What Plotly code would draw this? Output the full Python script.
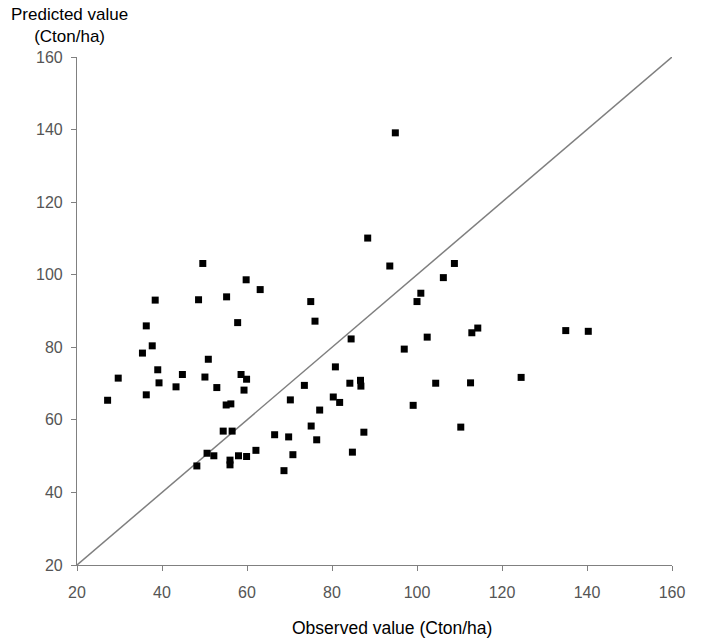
import plotly.graph_objects as go

observed = [27.2, 29.7, 35.4, 36.3, 36.3, 37.7, 38.4, 39.0, 39.3, 43.3, 44.8, 48.2, 48.6, 49.6,
            50.1, 50.6, 50.9, 52.2, 52.9, 54.4, 55.1, 55.2, 56.0, 56.0, 56.2, 56.5, 57.8, 58.0,
            58.6, 59.3, 59.8, 59.9, 59.9, 62.1, 63.1, 66.5, 68.7, 69.8, 70.2, 70.8, 73.5, 75.0,
            75.1, 76.0, 76.4, 77.1, 80.3, 80.8, 81.8, 84.2, 84.5, 84.8, 86.7, 86.8, 87.5, 88.4,
            93.6, 94.9, 97.0, 99.1, 100.0, 100.9, 102.4, 104.4, 106.2, 108.8, 110.3, 112.6,
            112.9, 114.3, 124.5, 135.0, 140.3]
predicted = [65.4, 71.5, 78.4, 85.9, 66.9, 80.4, 93.0, 73.8, 70.2, 69.1, 72.5, 47.3, 93.1, 103.1,
             71.8, 50.8, 76.7, 50.1, 68.9, 56.9, 64.1, 93.9, 48.9, 47.6, 64.4, 56.9, 86.8, 50.1,
             72.5, 68.2, 98.6, 71.2, 49.9, 51.6, 95.9, 55.9, 46.0, 55.3, 65.5, 50.4, 69.5, 92.6,
             58.3, 87.2, 54.5, 62.7, 66.3, 74.6, 64.8, 70.1, 82.3, 51.1, 70.9, 69.3, 56.6, 110.1,
             102.4, 139.1, 79.5, 64.0, 92.6, 94.9, 82.8, 70.1, 99.2, 103.1, 58.0, 70.2,
             84.0, 85.3, 71.7, 84.6, 84.4]
line_x = [20, 160]
line_y = [20, 160]
tick_vals = [20, 40, 60, 80, 100, 120, 140, 160]
x_title = "Observed value (Cton/ha)"
y_title = "Predicted value<br>(Cton/ha)"

fig = go.Figure()
fig.add_trace(go.Scatter(x=line_x, y=line_y, mode="lines",
                         line=dict(color="#7f7f7f", width=1.5), hoverinfo="skip",
                         showlegend=False, cliponaxis=False))
fig.add_trace(go.Scatter(x=observed, y=predicted, mode="markers",
                         marker=dict(symbol="square", size=7, color="black", line=dict(width=0)),
                         showlegend=False, cliponaxis=False))

axis_common = dict(range=[20, 160], tickvals=tick_vals, showgrid=False, zeroline=False,
                   showline=True, linecolor="#808080", linewidth=1.2,
                   ticks="outside", ticklen=5, tickcolor="#808080", tickwidth=1,
                   tickfont=dict(family="Liberation Sans, Arial, sans-serif", size=16, color="#555555"))

fig.update_layout(
    width=722, height=642,
    margin=dict(l=77, r=50, t=57, b=77),
    paper_bgcolor="white", plot_bgcolor="white",
    xaxis=dict(**axis_common, ticklabelstandoff=8),
    yaxis=dict(**axis_common, ticklabelstandoff=5),
    font=dict(family="Liberation Sans, Arial, sans-serif"),
    annotations=[
        dict(text=y_title, xref="paper", yref="paper", x=-0.012, y=1.0, yshift=9,
             xanchor="center", yanchor="bottom", showarrow=False, align="center",
             font=dict(size=17, color="black")),
        dict(text=x_title, xref="paper", yref="paper", x=0.53, y=0, yshift=-51,
             xanchor="center", yanchor="top", showarrow=False,
             font=dict(size=17.5, color="black")),
    ],
)

fig.write_html("out.html")
